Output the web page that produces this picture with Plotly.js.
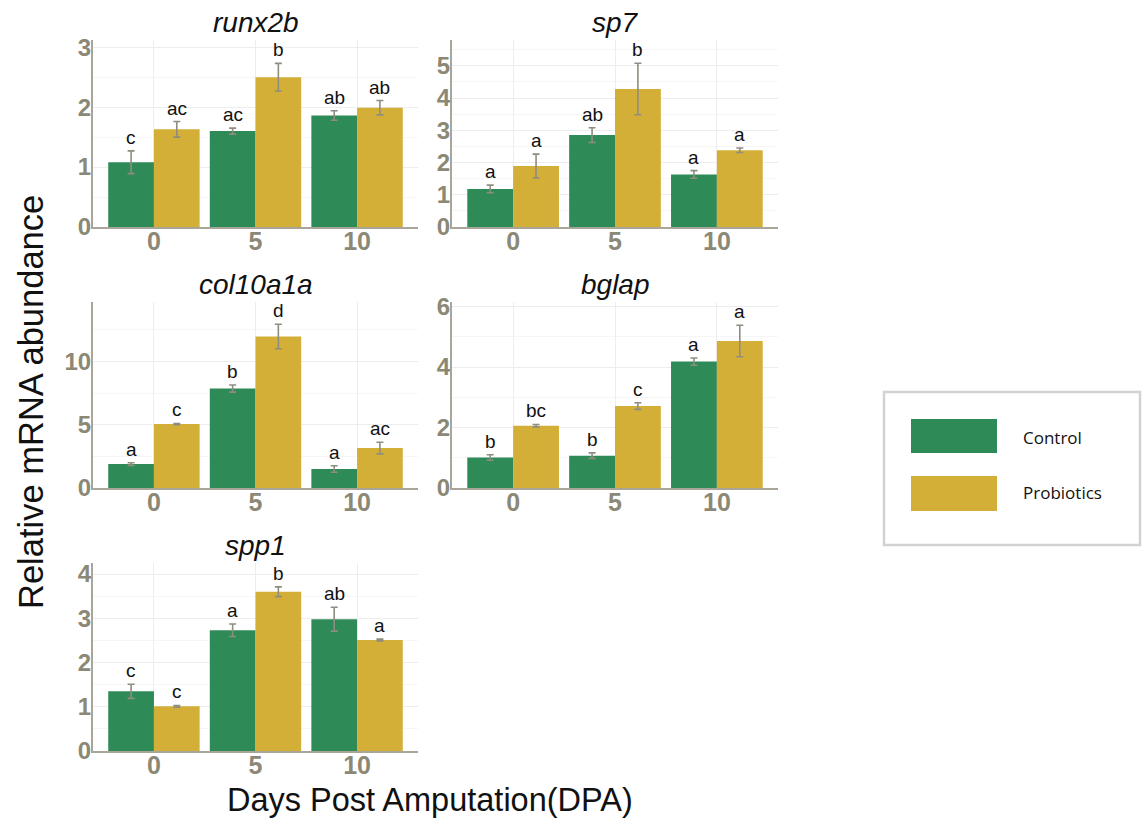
<!DOCTYPE html>
<html>
<head>
<meta charset="utf-8">
<script src="https://cdn.plot.ly/plotly-3.0.1.min.js"></script>
<style>html,body{margin:0;padding:0;background:#fff;}#chart{width:1144px;height:827px;}</style>
</head>
<body>
<div id="chart"></div>
<script>
// ---- data ----
const dpa = ['0', '5', '10'];
const genes = ['runx2b', 'sp7', 'col10a1a', 'bglap', 'spp1'];
const seriesNames = ['Control', 'Probiotics'];

const runx2bControl = [1.08, 1.60, 1.86];
const runx2bControlSE = [0.19, 0.05, 0.08];
const runx2bProbiotics = [1.63, 2.50, 1.99];
const runx2bProbioticsSE = [0.13, 0.23, 0.12];
const runx2bControlLetters = ['c', 'ac', 'ab'];
const runx2bProbioticsLetters = ['ac', 'b', 'ab'];

const sp7Control = [1.18, 2.85, 1.63];
const sp7ControlSE = [0.12, 0.23, 0.12];
const sp7Probiotics = [1.89, 4.28, 2.38];
const sp7ProbioticsSE = [0.37, 0.80, 0.07];
const sp7ControlLetters = ['a', 'ab', 'a'];
const sp7ProbioticsLetters = ['a', 'b', 'a'];

const col10a1aControl = [1.89, 7.86, 1.50];
const col10a1aControlSE = [0.10, 0.28, 0.26];
const col10a1aProbiotics = [5.05, 11.97, 3.16];
const col10a1aProbioticsSE = [0.05, 0.97, 0.46];
const col10a1aControlLetters = ['a', 'b', 'a'];
const col10a1aProbioticsLetters = ['c', 'd', 'ac'];

const bglapControl = [1.01, 1.07, 4.18];
const bglapControlSE = [0.09, 0.09, 0.12];
const bglapProbiotics = [2.06, 2.71, 4.86];
const bglapProbioticsSE = [0.04, 0.11, 0.52];
const bglapControlLetters = ['b', 'b', 'a'];
const bglapProbioticsLetters = ['bc', 'c', 'a'];

const spp1Control = [1.35, 2.73, 2.98];
const spp1ControlSE = [0.16, 0.14, 0.27];
const spp1Probiotics = [1.01, 3.60, 2.51];
const spp1ProbioticsSE = [0.02, 0.11, 0.02];
const spp1ControlLetters = ['c', 'a', 'ab'];
const spp1ProbioticsLetters = ['c', 'b', 'a'];

const yMax = [3.12, 5.8, 14.7, 6.15, 4.25];
const yStep = [1, 1, 5, 2, 1];

// ---- styling / layout ----
const W = 1144, H = 827;
const GREEN = '#2E8B57', GOLD = '#D4AF37';
const TICK = '#8b8876', AXIS = '#a9a598', ERR = '#8f8c80';
const FONT = 'Liberation Sans, Arial, sans-serif';

const panels = [
  {c: runx2bControl, cs: runx2bControlSE, p: runx2bProbiotics, ps: runx2bProbioticsSE, cl: runx2bControlLetters, pl: runx2bProbioticsLetters},
  {c: sp7Control, cs: sp7ControlSE, p: sp7Probiotics, ps: sp7ProbioticsSE, cl: sp7ControlLetters, pl: sp7ProbioticsLetters},
  {c: col10a1aControl, cs: col10a1aControlSE, p: col10a1aProbiotics, ps: col10a1aProbioticsSE, cl: col10a1aControlLetters, pl: col10a1aProbioticsLetters},
  {c: bglapControl, cs: bglapControlSE, p: bglapProbiotics, ps: bglapProbioticsSE, cl: bglapControlLetters, pl: bglapProbioticsLetters},
  {c: spp1Control, cs: spp1ControlSE, p: spp1Probiotics, ps: spp1ProbioticsSE, cl: spp1ControlLetters, pl: spp1ProbioticsLetters}
];

// pixel boxes of the plot areas
const colX = [[93, 418], [452, 778]];
const rowY = [[40, 227], [302, 488], [563, 751]];
const px = v => v / W;
const py = v => 1 - v / H;

const traces = [];
const layout = {
  width: W, height: H,
  margin: {l: 0, r: 0, t: 0, b: 0},
  paper_bgcolor: '#fff', plot_bgcolor: '#fff',
  showlegend: false,
  barmode: 'group', bargap: 0.1, bargroupgap: 0,
  font: {family: FONT, color: '#000'},
  annotations: [], shapes: []
};

panels.forEach((pd, k) => {
  const n = k + 1;
  const xa = 'x' + (n === 1 ? '' : n), ya = 'y' + (n === 1 ? '' : n);
  const col = k % 2, row = Math.floor(k / 2);
  const errStyle = {type: 'data', visible: true, color: ERR, thickness: 1.6, width: 3.5};
  traces.push({
    type: 'bar', name: seriesNames[0], x: dpa, y: pd.c, xaxis: xa, yaxis: ya,
    marker: {color: GREEN}, error_y: Object.assign({array: pd.cs}, errStyle), hoverinfo: 'y'
  });
  traces.push({
    type: 'bar', name: seriesNames[1], x: dpa, y: pd.p, xaxis: xa, yaxis: ya,
    marker: {color: GOLD}, error_y: Object.assign({array: pd.ps}, errStyle), hoverinfo: 'y'
  });
  const xk = 'xaxis' + (n === 1 ? '' : n), yk = 'yaxis' + (n === 1 ? '' : n);
  layout[xk] = {
    domain: [px(colX[col][0]), px(colX[col][1])], anchor: ya,
    type: 'category', range: [-0.6, 2.6], fixedrange: true,
    showline: true, linecolor: AXIS, linewidth: 2,
    showgrid: true, gridcolor: '#ededed', gridwidth: 1, zeroline: false,
    ticks: '', tickfont: {family: FONT, size: 25, color: TICK, weight: 'bold'},
    ticklabelstandoff: -9
  };
  layout[yk] = {
    domain: [py(rowY[row][1]), py(rowY[row][0])], anchor: xa,
    range: [0, yMax[k]], dtick: yStep[k], tick0: 0, fixedrange: true,
    showline: true, linecolor: AXIS, linewidth: 2,
    showgrid: true, gridcolor: '#ededed', gridwidth: 1, zeroline: false,
    minor: {dtick: yStep[k] / 2, showgrid: true, gridcolor: '#f6f6f6', gridwidth: 1},
    ticks: '', tickfont: {family: FONT, size: 24, color: TICK, weight: 'bold'},
    ticklabelstandoff: -5
  };
  // panel title
  layout.annotations.push({
    xref: 'paper', yref: 'paper',
    x: (px(colX[col][0]) + px(colX[col][1])) / 2, y: py(rowY[row][0]),
    xanchor: 'center', yanchor: 'bottom', yshift: 0, showarrow: false,
    text: '<i>' + genes[k] + '</i>', font: {family: FONT, size: 28, color: '#111'}
  });
  // significance letters
  dpa.forEach((d, i) => {
    layout.annotations.push({
      xref: xa, yref: ya, x: i - 0.225, y: pd.c[i] + pd.cs[i],
      xanchor: 'center', yanchor: 'bottom', yshift: 1, showarrow: false,
      text: pd.cl[i], font: {family: FONT, size: 19, color: '#111'}
    });
    layout.annotations.push({
      xref: xa, yref: ya, x: i + 0.225, y: pd.p[i] + pd.ps[i],
      xanchor: 'center', yanchor: 'bottom', yshift: 1, showarrow: false,
      text: pd.pl[i], font: {family: FONT, size: 19, color: '#111'}
    });
  });
});

// global axis titles
layout.annotations.push({
  xref: 'paper', yref: 'paper', x: px(31), y: py(402), xanchor: 'center', yanchor: 'middle',
  textangle: -90, showarrow: false, text: 'Relative mRNA abundance',
  font: {family: FONT, size: 34.5, color: '#111'}
});
layout.annotations.push({
  xref: 'paper', yref: 'paper', x: px(430), y: py(800), xanchor: 'center', yanchor: 'middle',
  showarrow: false, text: 'Days Post Amputation(DPA)',
  font: {family: FONT, size: 32.5, color: '#111'}
});

// legend box drawn with shapes
layout.shapes.push({type: 'rect', xref: 'paper', yref: 'paper', x0: px(884), x1: px(1140), y0: py(545), y1: py(392),
  line: {color: '#d2d2d2', width: 2.5}, fillcolor: '#fff'});
layout.shapes.push({type: 'rect', xref: 'paper', yref: 'paper', x0: px(911), x1: px(997), y0: py(453), y1: py(419),
  line: {width: 0}, fillcolor: GREEN});
layout.shapes.push({type: 'rect', xref: 'paper', yref: 'paper', x0: px(911), x1: px(997), y0: py(511), y1: py(476),
  line: {width: 0}, fillcolor: GOLD});
layout.annotations.push({xref: 'paper', yref: 'paper', x: px(1021), y: py(437), xanchor: 'left', yanchor: 'middle',
  showarrow: false, text: seriesNames[0], font: {family: 'Open Sans, sans-serif', size: 17, color: '#111'}});
layout.annotations.push({xref: 'paper', yref: 'paper', x: px(1021), y: py(492), xanchor: 'left', yanchor: 'middle',
  showarrow: false, text: seriesNames[1], font: {family: 'Open Sans, sans-serif', size: 17, color: '#111'}});

Plotly.newPlot('chart', traces, layout, {displayModeBar: false, staticPlot: true});
</script>
</body>
</html>
